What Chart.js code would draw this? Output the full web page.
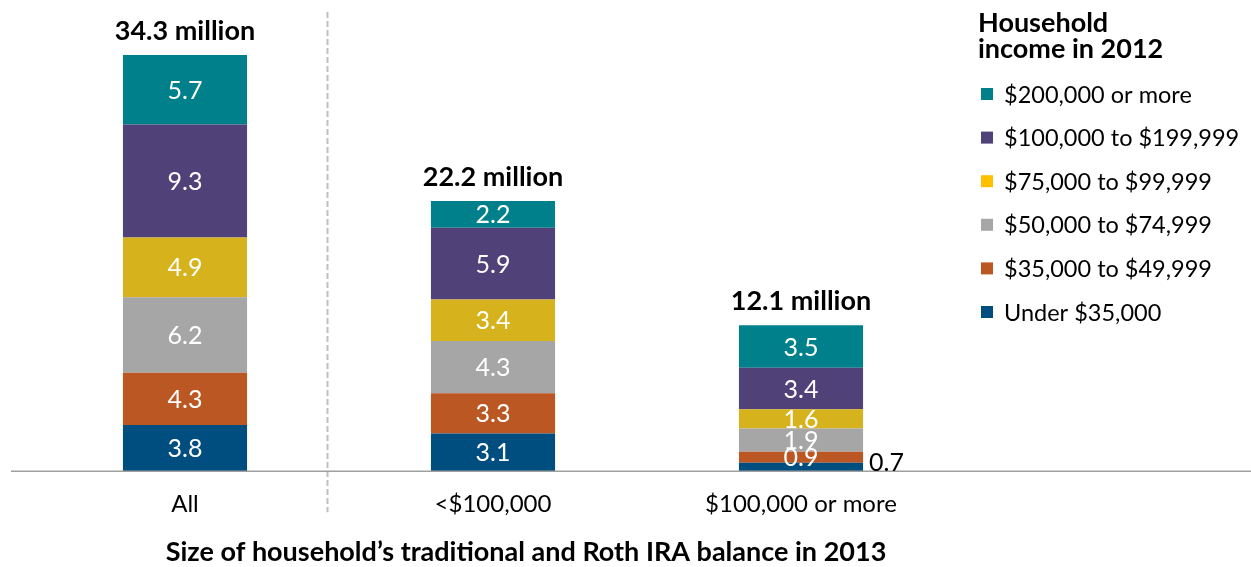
<!DOCTYPE html>
<html>
<head>
<meta charset="utf-8">
<script src="https://cdn.jsdelivr.net/npm/chart.js@4.4.1/dist/chart.umd.min.js"></script>
<style>
    html, body { margin: 0; padding: 0; background: #fff; }
    #wrap { width: 1251px; height: 567px; position: relative; }
</style>
</head>
<body>
<div id="wrap"><canvas id="iraChart"></canvas></div>
<script>
// ---- data (millions of households) ----
const categories = ['All', '<$100,000', '$100,000 or more'];
const seriesNames = ['Under $35,000', '$35,000 to $49,999', '$50,000 to $74,999', '$75,000 to $99,999', '$100,000 to $199,999', '$200,000 or more'];
const under35k = [3.8, 3.1, 0.7];
const from35to50k = [4.3, 3.3, 0.9];
const from50to75k = [6.2, 4.3, 1.9];
const from75to100k = [4.9, 3.4, 1.6];
const from100to200k = [9.3, 5.9, 3.4];
const over200k = [5.7, 2.2, 3.5];
const totals = [34.3, 22.2, 12.1];

const legendTitle = ['Household', 'income in 2012'];
const axisTitle = 'Size of household\u2019s traditional and Roth IRA balance in 2013';

// ---- styles ----
const barColors = ['#004e80', '#bb5723', '#a6a6a6', '#d6b21c', '#504178', '#00808a'];
const legendColors = ['#004e80', '#bb5723', '#a6a6a6', '#ffc000', '#504178', '#00808a'];
const FONT = 'Lato, "Open Sans", sans-serif';

const seriesData = [under35k, from35to50k, from50to75k, from75to100k, from100to200k, over200k];

// segment values, totals, separator, baseline, legend, axis title
const decorPlugin = {
    id: 'decor',
    beforeDatasetsDraw(chart) {
        const ctx = chart.ctx;
        const x = chart.scales.x;
        const y = chart.scales.y;
        const base = y.getPixelForValue(0);
        ctx.save();
        // dashed separator between "All" and the split groups
        ctx.strokeStyle = '#bfbfbf';
        ctx.lineWidth = 2;
        ctx.setLineDash([6, 3]);
        const sx = Math.round(x.getPixelForValue(0.46)) + 0.5;
        ctx.beginPath();
        ctx.moveTo(sx, 12);
        ctx.lineTo(sx, base + 41);
        ctx.stroke();
        ctx.restore();
    },
    afterDatasetsDraw(chart) {
        const ctx = chart.ctx;
        const y = chart.scales.y;
        const base = y.getPixelForValue(0);
        ctx.save();

        // baseline across the whole width
        ctx.strokeStyle = '#a0a0a0';
        ctx.lineWidth = 1.5;
        ctx.beginPath();
        ctx.moveTo(11, base);
        ctx.lineTo(chart.width, base);
        ctx.stroke();

        // segment labels
        ctx.font = '25px ' + FONT;
        ctx.textBaseline = 'middle';
        chart.data.datasets.forEach((ds, i) => {
            const meta = chart.getDatasetMeta(i);
            meta.data.forEach((bar, j) => {
                const h = bar.base - bar.y;
                const txt = ds.data[j].toFixed(1);
                const cy = (bar.y + bar.base) / 2;
                if (h >= 10) {
                    ctx.fillStyle = '#ffffff';
                    ctx.textAlign = 'center';
                    ctx.fillText(txt, bar.x, cy + 1);
                } else {
                    ctx.fillStyle = '#000000';
                    ctx.textAlign = 'left';
                    ctx.fillText(txt, bar.x + bar.width / 2 + 6, cy - 4);
                }
            });
        });

        // totals above bars
        const topMeta = chart.getDatasetMeta(chart.data.datasets.length - 1);
        ctx.font = 'bold 27px ' + FONT;
        ctx.fillStyle = '#000000';
        ctx.textAlign = 'center';
        topMeta.data.forEach((bar, j) => {
            ctx.fillText(totals[j].toFixed(1) + ' million', bar.x, bar.y - 24);
        });

        // axis title
        ctx.font = 'bold 27px ' + FONT;
        ctx.fillText(axisTitle, 526, 552);

        // legend
        const lx = 978;
        ctx.textAlign = 'left';
        ctx.font = 'bold 27px ' + FONT;
        legendTitle.forEach((t, k) => ctx.fillText(t, lx, 23 + k * 26));
        ctx.font = '23.5px ' + FONT;
        for (let k = 0; k < seriesNames.length; k++) {
            const idx = seriesNames.length - 1 - k;
            const cy = 94 + k * 43.6;
            ctx.fillStyle = legendColors[idx];
            ctx.fillRect(981, cy - 6, 12, 12);
            ctx.fillStyle = '#000000';
            ctx.fillText(seriesNames[idx], 1004, cy + 1);
        }
        ctx.restore();
    }
};

new Chart(document.getElementById('iraChart'), {
    type: 'bar',
    data: {
        labels: categories,
        datasets: seriesNames.map((name, i) => ({
            label: name,
            data: seriesData[i],
            backgroundColor: barColors[i],
            borderWidth: 0,
            categoryPercentage: 1,
            barPercentage: 0.403,
        }))
    },
    options: {
        responsive: true,
        maintainAspectRatio: false,
        animation: false,
        layout: { padding: { left: 31, right: 296, top: 10, bottom: 37 } },
        plugins: { legend: { display: false }, tooltip: { enabled: false } },
        scales: {
            x: {
                stacked: true,
                grid: { display: false },
                border: { display: false },
                ticks: { color: '#000', font: { family: FONT, size: 24 }, padding: 11, maxRotation: 0, autoSkip: false }
            },
            y: {
                stacked: true,
                display: false,
                min: 0,
                max: 37.9
            }
        }
    },
    plugins: [decorPlugin]
});
</script>
</body>
</html>
